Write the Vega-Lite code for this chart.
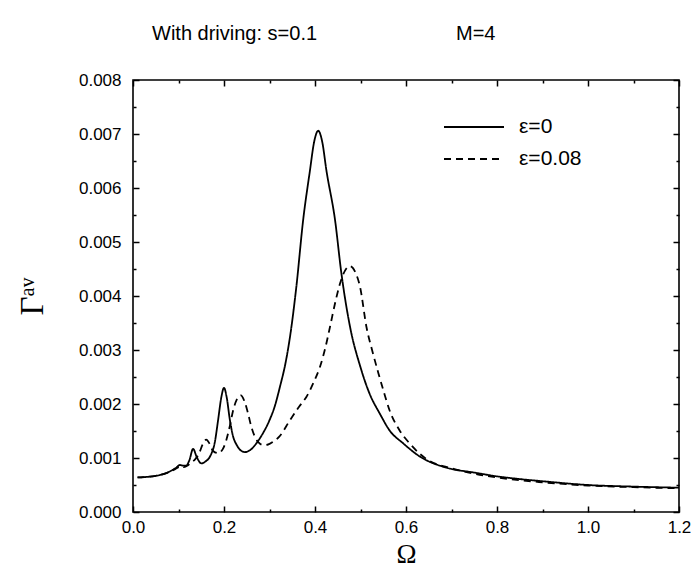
{
  "$schema": "https://vega.github.io/schema/vega-lite/v6.json",
  "width": 546,
  "height": 432,
  "autosize": {"type": "none"},
  "padding": {"left": 133, "top": 80, "right": 17, "bottom": 53},
  "background": "white",
  "config": {
    "view": {"stroke": "black", "strokeWidth": 1.6},
    "font": "Liberation Sans",
    "axis": {"domain": false, "grid": false, "zindex": 1, "tickColor": "black", "tickWidth": 1.5, "labelColor": "black", "labelFont": "Liberation Sans", "labelFontSize": 17}
  },
  "title": {
    "text": "With driving: s=0.1\u00a0\u00a0\u00a0\u00a0\u00a0\u00a0\u00a0\u00a0\u00a0\u00a0\u00a0\u00a0\u00a0\u00a0\u00a0\u00a0\u00a0\u00a0\u00a0\u00a0\u00a0\u00a0\u00a0\u00a0\u00a0M=4",
    "anchor": "start",
    "frame": "group",
    "dx": 19,
    "offset": 27,
    "font": "Liberation Sans",
    "fontSize": 20,
    "fontWeight": "normal",
    "color": "black"
  },
  "data": {"values": [
    {"o":0.01,"g":0.00064,"s":"ε=0"},{"o":0.03,"g":0.00065,"s":"ε=0"},{"o":0.05,"g":0.00067,"s":"ε=0"},{"o":0.07,"g":0.00071,"s":"ε=0"},{"o":0.085,"g":0.00077,"s":"ε=0"},{"o":0.095,"g":0.00082,"s":"ε=0"},{"o":0.103,"g":0.00087,"s":"ε=0"},{"o":0.110,"g":0.00086,"s":"ε=0"},{"o":0.117,"g":0.00086,"s":"ε=0"},{"o":0.124,"g":0.00096,"s":"ε=0"},{"o":0.132,"g":0.00117,"s":"ε=0"},{"o":0.140,"g":0.00102,"s":"ε=0"},{"o":0.150,"g":0.00090,"s":"ε=0"},{"o":0.160,"g":0.00094,"s":"ε=0"},{"o":0.170,"g":0.00104,"s":"ε=0"},{"o":0.180,"g":0.00130,"s":"ε=0"},{"o":0.187,"g":0.00170,"s":"ε=0"},{"o":0.194,"g":0.00212,"s":"ε=0"},{"o":0.200,"g":0.00230,"s":"ε=0"},{"o":0.206,"g":0.00212,"s":"ε=0"},{"o":0.213,"g":0.00170,"s":"ε=0"},{"o":0.220,"g":0.00140,"s":"ε=0"},{"o":0.228,"g":0.00124,"s":"ε=0"},{"o":0.237,"g":0.00114,"s":"ε=0"},{"o":0.246,"g":0.00111,"s":"ε=0"},{"o":0.258,"g":0.00115,"s":"ε=0"},{"o":0.271,"g":0.00127,"s":"ε=0"},{"o":0.285,"g":0.00145,"s":"ε=0"},{"o":0.300,"g":0.00170,"s":"ε=0"},{"o":0.312,"g":0.00197,"s":"ε=0"},{"o":0.323,"g":0.00232,"s":"ε=0"},{"o":0.335,"g":0.00275,"s":"ε=0"},{"o":0.345,"g":0.00324,"s":"ε=0"},{"o":0.359,"g":0.00417,"s":"ε=0"},{"o":0.374,"g":0.00541,"s":"ε=0"},{"o":0.389,"g":0.00633,"s":"ε=0"},{"o":0.398,"g":0.00685,"s":"ε=0"},{"o":0.407,"g":0.00706,"s":"ε=0"},{"o":0.416,"g":0.00685,"s":"ε=0"},{"o":0.425,"g":0.00633,"s":"ε=0"},{"o":0.444,"g":0.00541,"s":"ε=0"},{"o":0.458,"g":0.00442,"s":"ε=0"},{"o":0.477,"g":0.00343,"s":"ε=0"},{"o":0.500,"g":0.00268,"s":"ε=0"},{"o":0.520,"g":0.00219,"s":"ε=0"},{"o":0.5425,"g":0.00182,"s":"ε=0"},{"o":0.564,"g":0.00151,"s":"ε=0"},{"o":0.594,"g":0.00127,"s":"ε=0"},{"o":0.630,"g":0.00103,"s":"ε=0"},{"o":0.689,"g":0.00082,"s":"ε=0"},{"o":0.75,"g":0.00073,"s":"ε=0"},{"o":0.80,"g":0.00066,"s":"ε=0"},{"o":0.85,"g":0.00061,"s":"ε=0"},{"o":0.90,"g":0.00057,"s":"ε=0"},{"o":1.0,"g":0.00050,"s":"ε=0"},{"o":1.1,"g":0.00047,"s":"ε=0"},{"o":1.2,"g":0.00045,"s":"ε=0"},
    {"o":0.01,"g":0.00064,"s":"ε=0.08"},{"o":0.03,"g":0.00065,"s":"ε=0.08"},{"o":0.05,"g":0.00067,"s":"ε=0.08"},{"o":0.07,"g":0.00071,"s":"ε=0.08"},{"o":0.085,"g":0.00076,"s":"ε=0.08"},{"o":0.098,"g":0.00082,"s":"ε=0.08"},{"o":0.105,"g":0.00085,"s":"ε=0.08"},{"o":0.112,"g":0.00083,"s":"ε=0.08"},{"o":0.120,"g":0.00086,"s":"ε=0.08"},{"o":0.128,"g":0.00092,"s":"ε=0.08"},{"o":0.136,"g":0.00097,"s":"ε=0.08"},{"o":0.145,"g":0.00108,"s":"ε=0.08"},{"o":0.153,"g":0.00125,"s":"ε=0.08"},{"o":0.161,"g":0.00134,"s":"ε=0.08"},{"o":0.168,"g":0.00127,"s":"ε=0.08"},{"o":0.176,"g":0.00113,"s":"ε=0.08"},{"o":0.187,"g":0.00109,"s":"ε=0.08"},{"o":0.197,"g":0.00116,"s":"ε=0.08"},{"o":0.205,"g":0.00133,"s":"ε=0.08"},{"o":0.213,"g":0.00160,"s":"ε=0.08"},{"o":0.220,"g":0.00188,"s":"ε=0.08"},{"o":0.228,"g":0.00208,"s":"ε=0.08"},{"o":0.237,"g":0.00216,"s":"ε=0.08"},{"o":0.245,"g":0.00205,"s":"ε=0.08"},{"o":0.253,"g":0.00182,"s":"ε=0.08"},{"o":0.260,"g":0.00158,"s":"ε=0.08"},{"o":0.268,"g":0.00139,"s":"ε=0.08"},{"o":0.277,"g":0.00128,"s":"ε=0.08"},{"o":0.286,"g":0.00124,"s":"ε=0.08"},{"o":0.297,"g":0.00125,"s":"ε=0.08"},{"o":0.308,"g":0.00130,"s":"ε=0.08"},{"o":0.322,"g":0.00140,"s":"ε=0.08"},{"o":0.345,"g":0.00170,"s":"ε=0.08"},{"o":0.365,"g":0.00195,"s":"ε=0.08"},{"o":0.381,"g":0.00213,"s":"ε=0.08"},{"o":0.397,"g":0.00240,"s":"ε=0.08"},{"o":0.411,"g":0.00269,"s":"ε=0.08"},{"o":0.423,"g":0.00305,"s":"ε=0.08"},{"o":0.433,"g":0.00343,"s":"ε=0.08"},{"o":0.445,"g":0.00390,"s":"ε=0.08"},{"o":0.455,"g":0.00423,"s":"ε=0.08"},{"o":0.466,"g":0.00447,"s":"ε=0.08"},{"o":0.477,"g":0.00455,"s":"ε=0.08"},{"o":0.488,"g":0.00445,"s":"ε=0.08"},{"o":0.499,"g":0.00417,"s":"ε=0.08"},{"o":0.513,"g":0.00343,"s":"ε=0.08"},{"o":0.527,"g":0.00295,"s":"ε=0.08"},{"o":0.539,"g":0.00258,"s":"ε=0.08"},{"o":0.550,"g":0.00226,"s":"ε=0.08"},{"o":0.564,"g":0.00188,"s":"ε=0.08"},{"o":0.586,"g":0.00151,"s":"ε=0.08"},{"o":0.608,"g":0.00127,"s":"ε=0.08"},{"o":0.630,"g":0.00108,"s":"ε=0.08"},{"o":0.645,"g":0.00098,"s":"ε=0.08"},{"o":0.70,"g":0.00081,"s":"ε=0.08"},{"o":0.75,"g":0.00071,"s":"ε=0.08"},{"o":0.80,"g":0.00064,"s":"ε=0.08"},{"o":0.90,"g":0.00055,"s":"ε=0.08"},{"o":1.0,"g":0.00049,"s":"ε=0.08"},{"o":1.1,"g":0.00046,"s":"ε=0.08"},{"o":1.2,"g":0.00044,"s":"ε=0.08"}
  ]},
  "resolve": {"axis": {"x": "independent", "y": "independent"}},
  "layer": [
    {
      "mark": {"type": "line", "color": "black", "strokeWidth": 1.8, "interpolate": "monotone"},
      "encoding": {
        "x": {"field": "o", "type": "quantitative",
          "scale": {"domain": [0, 1.2], "nice": false, "zero": false},
          "axis": {"orient": "bottom", "title": "Ω", "titleFont": "Liberation Serif", "titleFontSize": 27, "titleFontWeight": "normal", "titleColor": "black", "titlePadding": 6,
            "values": [0,0.2,0.4,0.6,0.8,1.0,1.2], "format": ".1f",
            "tickSize": -6, "labelPadding": 13, "labelFlush": false}},
        "y": {"field": "g", "type": "quantitative",
          "scale": {"domain": [0, 0.008], "nice": false, "zero": false},
          "axis": {"orient": "left", "title": "Γᵃᵛ", "titleFont": "Liberation Serif", "titleFontSize": 33, "titleFontWeight": "normal", "titleColor": "black", "titlePadding": 29,
            "values": [0,0.001,0.002,0.003,0.004,0.005,0.006,0.007,0.008], "format": ".3f",
            "tickSize": -6, "labelPadding": 18, "labelFlush": false}},
        "strokeDash": {"field": "s", "type": "nominal",
          "scale": {"domain": ["ε=0", "ε=0.08"], "range": [[1, 0], [7, 5]]},
          "legend": {"title": null, "orient": "none", "legendX": 325, "legendY": 31, "padding": 0,
            "symbolType": "M-2,0L2,0", "symbolSize": 900, "symbolStrokeWidth": 1.8, "symbolStrokeColor": "black",
            "labelFont": "Liberation Sans", "labelFontSize": 21, "labelColor": "black", "labelOffset": 29, "rowPadding": 6}}
      }
    },
    {
      "mark": {"type": "point", "opacity": 0},
      "encoding": {
        "x": {"field": "o", "type": "quantitative",
          "axis": {"orient": "top", "title": null, "labels": false, "values": [0,0.2,0.4,0.6,0.8,1.0,1.2], "tickSize": -6}},
        "y": {"field": "g", "type": "quantitative",
          "axis": {"orient": "right", "title": null, "labels": false, "values": [0,0.001,0.002,0.003,0.004,0.005,0.006,0.007,0.008], "tickSize": -6}}
      }
    },
    {
      "mark": {"type": "point", "opacity": 0},
      "encoding": {
        "x": {"field": "o", "type": "quantitative",
          "axis": {"orient": "bottom", "title": null, "labels": false, "values": [0.1,0.3,0.5,0.7,0.9,1.1], "tickSize": -3}},
        "y": {"field": "g", "type": "quantitative",
          "axis": {"orient": "left", "title": null, "labels": false, "values": [0.0005,0.0015,0.0025,0.0035,0.0045,0.0055,0.0065,0.0075], "tickSize": -3}}
      }
    },
    {
      "mark": {"type": "point", "opacity": 0},
      "encoding": {
        "x": {"field": "o", "type": "quantitative",
          "axis": {"orient": "top", "title": null, "labels": false, "values": [0.1,0.3,0.5,0.7,0.9,1.1], "tickSize": -3}},
        "y": {"field": "g", "type": "quantitative",
          "axis": {"orient": "right", "title": null, "labels": false, "values": [0.0005,0.0015,0.0025,0.0035,0.0045,0.0055,0.0065,0.0075], "tickSize": -3}}
      }
    }
  ]
}
